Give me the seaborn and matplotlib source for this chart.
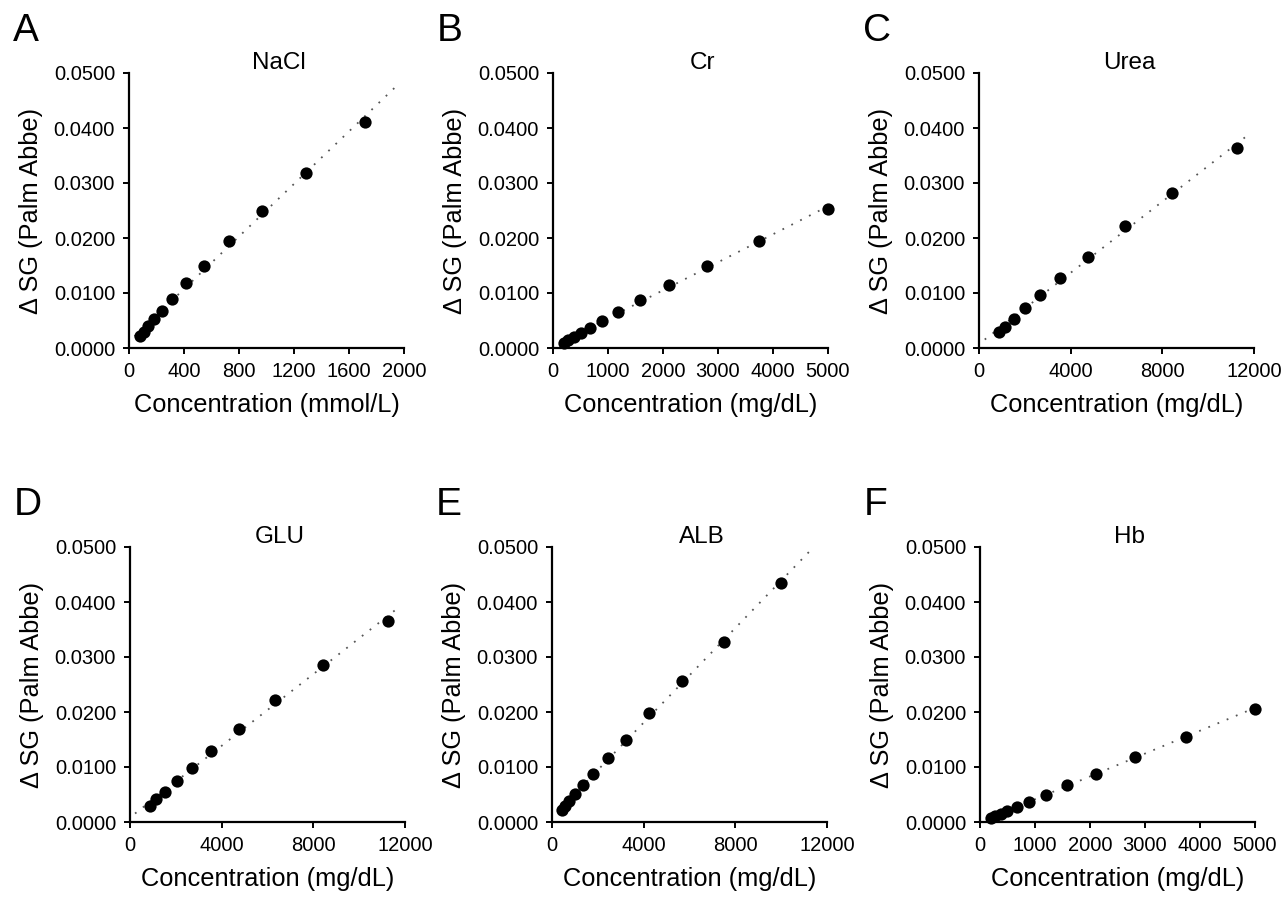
import matplotlib
matplotlib.use("Agg")
import matplotlib.pyplot as plt
import seaborn as sns
import numpy as np
import pandas as pd

# ---------------------------------------------------------------
# data (concentration vs delta SG)
panel_letters = ["A", "B", "C", "D", "E", "F"]
analytes = ["NaCl", "Cr", "Urea", "GLU", "ALB", "Hb"]
units = ["mmol/L", "mg/dL", "mg/dL", "mg/dL", "mg/dL", "mg/dL"]

nacl_x = [1717, 1289, 970, 725, 549, 416, 312, 237, 179, 138, 106, 80]
nacl_y = [0.0411, 0.0319, 0.0250, 0.0195, 0.0150, 0.0118, 0.0090, 0.0068, 0.0053, 0.0040, 0.0030, 0.0021]

cr_x = [5000, 3750, 2805, 2104, 1573, 1189, 884, 665, 500, 375, 281, 200]
cr_y = [0.0252, 0.0195, 0.0149, 0.0115, 0.0088, 0.0065, 0.0049, 0.0036, 0.0027, 0.0020, 0.0015, 0.0010]

urea_x = [11258, 8436, 6356, 4771, 3549, 2676, 2007, 1513, 1135, 873]
urea_y = [0.0363, 0.0282, 0.0221, 0.0166, 0.0128, 0.0097, 0.0072, 0.0053, 0.0039, 0.0030]

glu_x = [11244, 8436, 6342, 4742, 3549, 2691, 2036, 1513, 1135, 873]
glu_y = [0.0366, 0.0285, 0.0221, 0.0169, 0.0129, 0.0099, 0.0074, 0.0055, 0.0041, 0.0030]

alb_x = [9988, 7509, 5658, 4229, 3208, 2435, 1808, 1356, 1021, 758, 569, 420]
alb_y = [0.0435, 0.0327, 0.0256, 0.0198, 0.0150, 0.0116, 0.0088, 0.0067, 0.0051, 0.0039, 0.0030, 0.0022]

hb_x = [5000, 3747, 2810, 2105, 1582, 1192, 894, 669, 500, 375, 281, 200]
hb_y = [0.0206, 0.0155, 0.0119, 0.0088, 0.0067, 0.0049, 0.0036, 0.0027, 0.0020, 0.0015, 0.0011, 0.0008]

xs = [nacl_x, cr_x, urea_x, glu_x, alb_x, hb_x]
ys = [nacl_y, cr_y, urea_y, glu_y, alb_y, hb_y]

# x range of the dotted fit line and axis limits / tick steps
fit_lo = [40, 150, 250, 220, 300, 150]
fit_hi = [1965, 5000, 11740, 11780, 11370, 5000]
x_max = [2000, 5000, 12000, 12000, 12000, 5000]
x_step = [400, 1000, 4000, 4000, 4000, 1000]

# ---------------------------------------------------------------
sns.set_theme(style="ticks")
plt.rcParams['font.family'] = ['Liberation Sans', 'DejaVu Sans']
plt.rcParams['text.color'] = 'black'
plt.rcParams['axes.labelcolor'] = 'black'
plt.rcParams['axes.linewidth'] = 1.6
plt.rcParams['xtick.major.width'] = 1.4
plt.rcParams['ytick.major.width'] = 1.4
plt.rcParams['xtick.major.size'] = 4
plt.rcParams['ytick.major.size'] = 4
plt.rcParams['xtick.color'] = 'black'
plt.rcParams['ytick.color'] = 'black'
plt.rcParams['axes.edgecolor'] = 'black'

W, H = 1286, 901
fig = plt.figure(figsize=(W / 100, H / 100), dpi=100)

# axes boxes in pixels: left, top
lefts = [129, 553, 979, 130, 552, 980]
tops = [73, 73, 73, 547, 547, 547]
aw, ah = 275, 275

for i in range(6):
    ax = fig.add_axes([lefts[i] / W, 1 - (tops[i] + ah) / H, aw / W, ah / H])
    df = pd.DataFrame({"x": xs[i], "y": ys[i]})
    slope, icpt = np.polyfit(df.x, df.y, 1)
    line = pd.DataFrame({"x": [fit_lo[i], fit_hi[i]]})
    line["y"] = slope * line.x + icpt
    sns.lineplot(data=line, x="x", y="y", ax=ax, color="#555555",
                 linestyle=(0, (1, 4.5)), lw=1.3)
    sns.scatterplot(data=df, x="x", y="y", ax=ax, color="black", s=78,
                    edgecolor="black", linewidth=0, zorder=3, clip_on=False)
    ax.set_xlim(0, x_max[i])
    ax.set_ylim(0, 0.05)
    ax.set_xticks(np.arange(0, x_max[i] + 1, x_step[i]))
    ax.set_yticks(np.arange(0, 0.0501, 0.01))
    ax.set_yticklabels([f"{v:.4f}" for v in np.arange(0, 0.0501, 0.01)])
    ax.set_xticklabels([str(v) for v in np.arange(0, x_max[i] + 1, x_step[i])])
    ax.tick_params(labelsize=14.5, pad=6)
    ax.set_xlabel(f"Concentration ({units[i]})", fontsize=18.3, labelpad=9)
    ax.set_ylabel("Δ SG (Palm Abbe)", fontsize=18.3, labelpad=8)
    ax.text(0.545, 0.995, analytes[i], transform=ax.transAxes, ha="center",
            va="bottom", fontsize=17.5)
    sns.despine(ax=ax)
    fig.text((lefts[i] - 116) / W, 1 - (tops[i] - 60) / H, panel_letters[i],
             fontsize=28, ha="left", va="top")

fig.savefig("out.png", dpi=100, facecolor="white")
